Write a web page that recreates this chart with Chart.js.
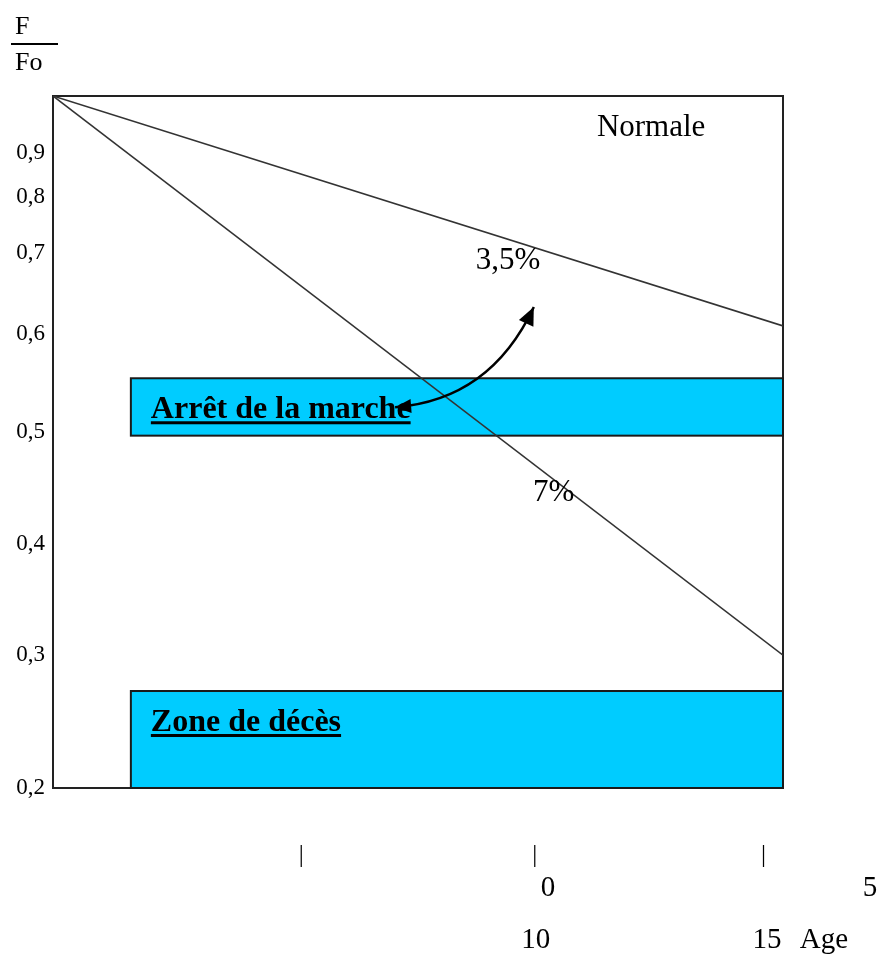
<!DOCTYPE html>
<html lang="fr">
<head>
<meta charset="utf-8">
<title>F/Fo selon l'âge</title>
<script src="https://cdn.jsdelivr.net/npm/chart.js@4.4.1/dist/chart.umd.min.js"></script>
<style>
  html, body { margin: 0; padding: 0; background: #fff; }
  #wrap { position: relative; width: 881px; height: 954px; }
</style>
</head>
<body>
<div id="wrap"><canvas id="chart"></canvas></div>
<script>
// valeurs
const ageStart = 0;
const ageEnd = 15;
const normalLine = [1.0, 0.61];   // perte 3,5% par an
const fastLine = [1.0, 0.3];      // perte 7% par an
const yTicks = [0.2, 0.3, 0.4, 0.5, 0.6, 0.7, 0.8, 0.9];
const ageTicks = [5.1, 9.9, 14.6];
const ageRow1 = ['0', '5'];
const ageRow1At = [10.17, 16.79];
const ageRow2 = ['10', '15', 'Age'];
const ageRow2At = [9.92, 14.67, 15.84];

const zoneNames = ['Arrêt de la marche', 'Zone de décès'];
const zoneFrom = [1.6, 1.6];
const zoneLow = [0.497, 0.2];
const zoneHigh = [0.555, 0.273];

const noteTexts = ['Normale', '3,5%', '7%'];
const noteAge = [12.29, 9.35, 10.29];
const noteValue = [0.93, 0.68, 0.438];

// flèche courbe : départ, contrôle, arrivée
const arrowAge = [7.03, 8.98, 9.88];
const arrowValue = [0.5255, 0.5327, 0.6333];

const serif = '"Liberation Serif", "Times New Roman", serif';

// l'axe vertical de la figure n'est pas régulier : interpolation par morceaux
const knotValues = [0.2, 0.3, 0.4, 0.5, 0.6, 0.7, 0.8, 0.9, 1.0];
const knotHeights = [0, 0.192, 0.353, 0.514, 0.656, 0.773, 0.854, 0.918, 1];

function toDecimal(v) {
  let i = 1;
  while (i < knotValues.length - 1 && v > knotValues[i]) i++;
  const t = (v - knotValues[i - 1]) / (knotValues[i] - knotValues[i - 1]);
  return knotHeights[i - 1] + t * (knotHeights[i] - knotHeights[i - 1]);
}

function fromDecimal(d) {
  let i = 1;
  while (i < knotHeights.length - 1 && d > knotHeights[i]) i++;
  const t = (d - knotHeights[i - 1]) / (knotHeights[i] - knotHeights[i - 1]);
  return knotValues[i - 1] + t * (knotValues[i] - knotValues[i - 1]);
}

class PiecewiseScale extends Chart.LinearScale {
  getPixelForValue(value) {
    return this.getPixelForDecimal(toDecimal(value));
  }
  getValueForPixel(pixel) {
    return fromDecimal(this.getDecimalForPixel(pixel));
  }
}
PiecewiseScale.id = 'piecewise';
PiecewiseScale.defaults = {};
Chart.register(PiecewiseScale);

function arrowHead(ctx, tipX, tipY, fromX, fromY, len, half) {
  const ang = Math.atan2(tipY - fromY, tipX - fromX);
  ctx.beginPath();
  ctx.moveTo(tipX, tipY);
  ctx.lineTo(tipX - len * Math.cos(ang) + half * Math.sin(ang), tipY - len * Math.sin(ang) - half * Math.cos(ang));
  ctx.lineTo(tipX - len * Math.cos(ang) - half * Math.sin(ang), tipY - len * Math.sin(ang) + half * Math.cos(ang));
  ctx.closePath();
  ctx.fill();
}

const sketchPlugin = {
  id: 'sketch',
  beforeDatasetsDraw(chart) {
    const { ctx, chartArea: a, scales: { x, y } } = chart;
    ctx.save();
    ctx.strokeStyle = '#222';
    ctx.lineWidth = 2;
    ctx.strokeRect(a.left, a.top, a.right - a.left, a.bottom - a.top);

    zoneNames.forEach((name, i) => {
      const left = x.getPixelForValue(zoneFrom[i]);
      const right = x.getPixelForValue(ageEnd);
      const top = y.getPixelForValue(zoneHigh[i]);
      const bottom = y.getPixelForValue(zoneLow[i]);
      ctx.fillStyle = '#00ccff';
      ctx.fillRect(left, top, right - left, bottom - top);
      ctx.strokeStyle = '#1a1a1a';
      ctx.lineWidth = 2;
      ctx.strokeRect(left, top, right - left, bottom - top);
    });
    ctx.restore();
  },
  afterDatasetsDraw(chart) {
    const { ctx, chartArea: a, scales: { x, y } } = chart;
    ctx.save();
    ctx.fillStyle = '#000';
    ctx.strokeStyle = '#000';

    // titres des zones, soulignés
    ctx.font = 'bold 32px ' + serif;
    ctx.textAlign = 'left';
    ctx.textBaseline = 'alphabetic';
    zoneNames.forEach((name, i) => {
      const left = x.getPixelForValue(zoneFrom[i]) + 20;
      const base = y.getPixelForValue(zoneHigh[i]) + 40;
      ctx.fillText(name, left, base);
      const w = ctx.measureText(name).width;
      ctx.fillRect(left, base + 3, w, 3);
    });

    // textes libres
    ctx.font = '31px ' + serif;
    ctx.textAlign = 'center';
    noteTexts.forEach((t, i) => {
      ctx.fillText(t, x.getPixelForValue(noteAge[i]), y.getPixelForValue(noteValue[i]));
    });

    // flèche courbe
    const px = arrowAge.map((v) => x.getPixelForValue(v));
    const py = arrowValue.map((v) => y.getPixelForValue(v));
    ctx.lineWidth = 2.5;
    ctx.beginPath();
    ctx.moveTo(px[0], py[0]);
    ctx.quadraticCurveTo(px[1], py[1], px[2], py[2]);
    ctx.stroke();
    arrowHead(ctx, px[2], py[2], px[1], py[1], 18, 8);
    arrowHead(ctx, px[0], py[0], px[1], py[1], 16, 7);

    // étiquettes d'âge sous l'axe
    ctx.font = '29px ' + serif;
    ctx.textBaseline = 'middle';
    ageRow1.forEach((t, i) => ctx.fillText(t, x.getPixelForValue(ageRow1At[i]), x.top + 100));
    ageRow2.forEach((t, i) => ctx.fillText(t, x.getPixelForValue(ageRow2At[i]), x.top + 152));

    // F / Fo
    ctx.font = '26px ' + serif;
    ctx.textAlign = 'left';
    ctx.fillText('F', 15, a.top - 69);
    ctx.fillText('Fo', 15, a.top - 33);
    ctx.fillRect(11, a.top - 53, 47, 2);
    ctx.restore();
  }
};

new Chart(document.getElementById('chart'), {
  type: 'line',
  data: {
    datasets: [
      {
        label: '3,5%',
        data: [{ x: ageStart, y: normalLine[0] }, { x: ageEnd, y: normalLine[1] }],
        borderColor: '#333',
        borderWidth: 1.6,
        pointRadius: 0
      },
      {
        label: '7%',
        data: [{ x: ageStart, y: fastLine[0] }, { x: ageEnd, y: fastLine[1] }],
        borderColor: '#333',
        borderWidth: 1.6,
        pointRadius: 0
      }
    ]
  },
  options: {
    responsive: true,
    maintainAspectRatio: false,
    animation: false,
    events: [],
    layout: { padding: { top: 96, right: 98, left: 0, bottom: 0 } },
    plugins: { legend: { display: false }, tooltip: { enabled: false } },
    scales: {
      x: {
        type: 'linear',
        min: ageStart,
        max: ageEnd,
        grid: { display: false, drawTicks: false },
        border: { display: false },
        afterBuildTicks: (s) => { s.ticks = ageTicks.map((v) => ({ value: v })); },
        afterFit: (s) => { s.height = 166; },
        ticks: {
          callback: () => '|',
          padding: 52,
          color: '#000',
          maxRotation: 0,
          autoSkip: false,
          font: { family: serif, size: 25 }
        }
      },
      y: {
        type: 'piecewise',
        min: 0.2,
        max: 1.0,
        grid: { display: false, drawTicks: false },
        border: { display: false },
        afterBuildTicks: (s) => { s.ticks = yTicks.map((v) => ({ value: v })); },
        afterFit: (s) => { s.width = 53; },
        ticks: {
          callback: (v) => v.toFixed(1).replace('.', ','),
          padding: 8,
          color: '#000',
          autoSkip: false,
          font: { family: serif, size: 23 }
        }
      }
    }
  },
  plugins: [sketchPlugin]
});
</script>
</body>
</html>
